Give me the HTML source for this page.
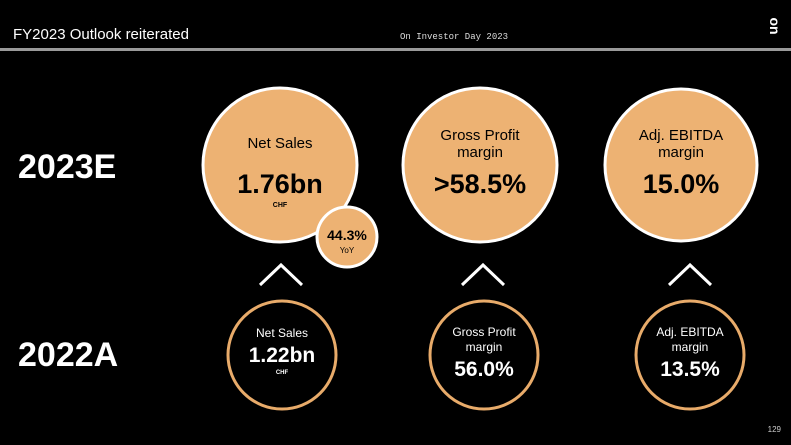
<!DOCTYPE html>
<html><head><style>
html,body{margin:0;padding:0;background:#000;}
svg{display:block}
</style></head><body>
<svg width="791" height="445" viewBox="0 0 791 445" xmlns="http://www.w3.org/2000/svg" font-family="Liberation Sans, Arial, sans-serif">
<rect width="791" height="445" fill="#000"/>
<text x="13" y="39" font-size="15" fill="#fff">FY2023 Outlook reiterated</text>
<text x="400" y="39" font-size="9" fill="#ddd" font-family="Liberation Mono, monospace">On Investor Day 2023</text>
<text x="0" y="0" font-size="14" fill="#fff" font-weight="bold" text-anchor="middle" transform="translate(770 26) rotate(90)">on</text>
<rect x="0" y="48" width="791" height="3" fill="#9a9a9a"/>
<text x="18" y="178" font-size="34" font-weight="bold" fill="#fff">2023E</text>
<text x="18" y="366" font-size="34" font-weight="bold" fill="#fff">2022A</text>
<g fill="#edb273" stroke="#fff" stroke-width="3">
<circle cx="280" cy="165" r="77"/>
<circle cx="480" cy="165" r="77"/>
<circle cx="681" cy="165" r="76"/>
<circle cx="347" cy="237" r="30"/>
</g>
<g fill="#000" text-anchor="middle">
<text x="280" y="148" font-size="15">Net Sales</text>
<text x="280" y="193" font-size="27" font-weight="bold">1.76bn</text>
<text x="280" y="207" font-size="7" font-weight="bold">CHF</text>
<text x="480" y="140" font-size="15">Gross Profit</text>
<text x="480" y="157" font-size="15">margin</text>
<text x="480" y="193" font-size="27" font-weight="bold">&gt;58.5%</text>
<text x="681" y="140" font-size="15">Adj. EBITDA</text>
<text x="681" y="157" font-size="15">margin</text>
<text x="681" y="193" font-size="27" font-weight="bold">15.0%</text>
<text x="347" y="240" font-size="14" font-weight="bold">44.3%</text>
<text x="347" y="253" font-size="8">YoY</text>
</g>
<g fill="none" stroke="#fff" stroke-width="3">
<polyline points="260,285 281,265 302,285"/>
<polyline points="462,285 483,265 504,285"/>
<polyline points="669,285 690,265 711,285"/>
</g>
<g fill="none" stroke="#e8ab6a" stroke-width="3">
<circle cx="282" cy="355" r="54"/>
<circle cx="484" cy="355" r="54"/>
<circle cx="690" cy="355" r="54"/>
</g>
<g fill="#fff" text-anchor="middle">
<text x="282" y="337" font-size="12">Net Sales</text>
<text x="282" y="362" font-size="21" font-weight="bold">1.22bn</text>
<text x="282" y="374" font-size="6" font-weight="bold">CHF</text>
<text x="484" y="336" font-size="12">Gross Profit</text>
<text x="484" y="351" font-size="12">margin</text>
<text x="484" y="376" font-size="21" font-weight="bold">56.0%</text>
<text x="690" y="336" font-size="12">Adj. EBITDA</text>
<text x="690" y="351" font-size="12">margin</text>
<text x="690" y="376" font-size="21" font-weight="bold">13.5%</text>
</g>
<text x="781" y="432" font-size="8" fill="#ccc" text-anchor="end">129</text>
</svg>
</body></html>
